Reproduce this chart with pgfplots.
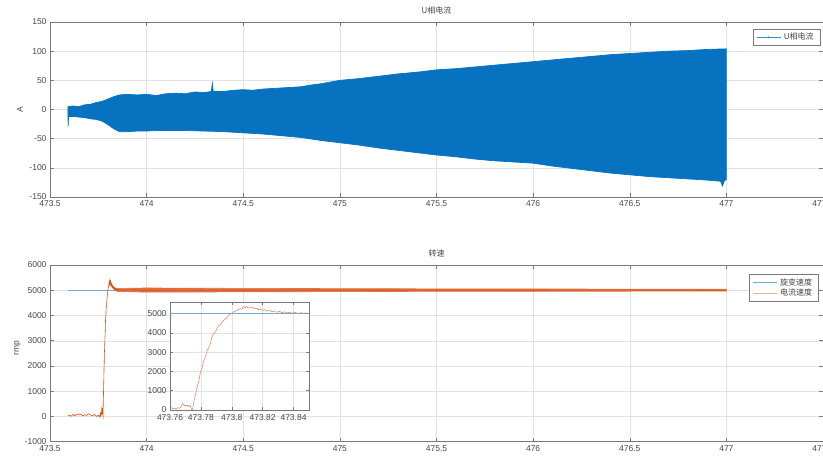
\documentclass[border=0pt]{standalone}
\usepackage{fontspec}
\setmainfont{Liberation Sans}
\newfontfamily\cjk{Noto Sans CJK SC}
\usepackage{pgfplots}
\pgfplotsset{compat=1.18}
\definecolor{mblue}{RGB}{6,114,192}
\definecolor{morange}{RGB}{217,83,25}
\definecolor{mteal}{RGB}{105,175,200}
\definecolor{axgray}{RGB}{120,120,120}
\definecolor{txtgray}{RGB}{70,70,70}
\definecolor{gridgray}{RGB}{226,226,226}
\pgfplotsset{
  mstyle/.style={
    scale only axis,
    axis line style={axgray, line width=0.5pt},
    tick style={axgray, line width=0.5pt},
    tick align=inside, major tick length=4pt,
    grid=major, major grid style={gridgray, line width=0.4pt},
    ticklabel style={font=\fontsize{8.5}{9}\selectfont, text=txtgray},
    /pgf/number format/assume math mode=true,
    /pgf/number format/1000 sep={},
    scaled ticks=false,
    title style={font=\cjk\fontsize{8}{9}\selectfont, text=txtgray, anchor=south, inner sep=1.5pt},
    ylabel style={font=\fontsize{8.5}{9}\selectfont, text=txtgray},
    legend style={draw=axgray, fill=white, font=\cjk\fontsize{8}{9}\selectfont, text=txtgray,
      inner xsep=3pt, inner ysep=2pt, row sep=-1.5pt,
      nodes={inner xsep=3pt}},
    legend cell align=left,
    legend image code/.code={\draw[mark repeat=2,mark phase=2,#1] plot coordinates {(0pt,0pt) (12pt,0pt) (24pt,0pt)};},
  }
}
% envelope of the U-phase current: upper edge left to right, then lower edge right to left
\pgfplotstableread{
x y
473.593 5
473.620 6
473.650 5
473.680 8
473.710 9
473.740 12
473.770 14
473.800 18
473.830 22
473.860 25
473.900 26
473.950 25
474.000 26
474.050 24
474.100 27
474.150 28
474.200 27
474.250 30
474.300 29
474.335 31
474.340 45
474.345 31
474.400 31
474.450 33
474.500 34
474.550 33
474.600 35
474.650 36
474.700 37
474.750 38
474.800 39
474.850 42
474.900 44
474.950 47
475.000 50
475.100 53
475.200 57
475.300 61
475.400 64
475.500 68
475.600 70
475.700 73
475.800 76
475.900 79
476.000 82
476.100 85
476.200 88
476.300 91
476.400 94
476.500 96
476.600 98
476.700 100
476.800 101
476.900 103
477.000 104
477.000 -120
476.990 -122
476.980 -131
476.970 -123
476.900 -121
476.800 -119
476.700 -117
476.600 -115
476.500 -112
476.400 -109
476.300 -105
476.200 -101
476.100 -97
476.000 -92
475.900 -90
475.800 -88
475.700 -85
475.600 -81
475.500 -78
475.400 -74
475.300 -70
475.200 -66
475.100 -61
475.000 -57
474.900 -53
474.800 -48
474.700 -45
474.600 -42
474.500 -40
474.400 -38
474.300 -37
474.200 -36
474.100 -36
474.050 -36
474.000 -37
473.950 -37
473.900 -38
473.860 -38
473.830 -33
473.800 -26
473.770 -20
473.740 -17
473.710 -16
473.680 -14
473.650 -13
473.620 -12
473.596 -12
473.594 -28
473.593 -12
}\envcur
\pgfplotstableread{
x y
473.593 20
473.600 60
473.610 10
473.620 80
473.630 30
473.640 100
473.650 60
473.660 90
473.670 20
473.680 70
473.690 40
473.700 110
473.710 60
473.720 30
473.730 80
473.740 0
473.750 50
473.755 -20
473.760 80
473.7610 120
473.7620 60
473.7630 100
473.7640 50
473.7650 120
473.7660 90
473.7670 140
473.7680 320
473.7690 280
473.7700 200
473.7710 260
473.7720 180
473.7730 240
473.7740 20
473.7745 0
473.7755 470
473.7765 800
473.7775 1170
473.7785 1450
473.7797 1950
473.7805 2100
473.7818 2560
473.7828 2700
473.7840 3080
473.7850 3200
473.7861 3430
473.7870 3750
473.7882 3950
473.7895 4050
473.7914 4390
473.7925 4400
473.7947 4650
473.7955 4680
473.7968 4790
473.7989 4970
473.8000 5000
473.8011 5090
473.8030 5150
473.8054 5260
473.8065 5220
473.8075 5380
473.8085 5300
473.8095 5370
473.8105 5290
473.8118 5350
473.8130 5280
473.8140 5320
473.8150 5240
473.8160 5280
473.8172 5200
473.8185 5240
473.8203 5170
473.8215 5200
473.8230 5130
473.8246 5160
473.8260 5100
473.8275 5130
473.8290 5070
473.8310 5110
473.8325 5050
473.8340 5090
473.8355 5030
473.8374 5070
473.8390 5010
473.8410 5060
473.8430 5000
473.8450 5050
473.8470 4990
473.8481 5030
473.8500 4990
473.8600 5040
473.8800 4960
473.9000 5030
474.0000 5000
474.5000 5010
475.0000 4995
475.5000 5005
476.0000 5000
476.5000 5005
477.0000 5000
}\speed
% noise band of the current-derived speed: upper edge, then lower edge reversed
\pgfplotstableread{
x y
473.850 5070
474.000 5090
474.250 5080
474.500 5075
474.750 5070
475.000 5065
475.500 5055
476.000 5050
476.500 5045
477.000 5040
477.000 4965
476.500 4962
476.000 4960
475.500 4955
475.000 4945
474.750 4940
474.500 4935
474.250 4930
474.000 4925
473.850 4950
}\band
\begin{document}
\begin{tikzpicture}
% ---------- top: U-phase current ----------
\begin{axis}[mstyle,
  at={(50pt,261pt)}, anchor=south west, width=773pt, height=175pt,
  xmin=473.5, xmax=477.5, ymin=-150, ymax=150,
  xtick={473.5,474,474.5,475,475.5,476,476.5,477,477.5},
  xticklabels={473.5,474,474.5,475,475.5,476,476.5,477,477.5},
  ytick={-150,-100,-50,0,50,100,150},
  title={U相电流},
  ylabel={A},
  ylabel style={at={(axis description cs:-0.039,0.5)}, anchor=center},
  legend style={at={(axis description cs:0.996,0.96)}, anchor=north east},
]
\addplot[fill=mblue, draw=mblue, line width=0.7pt, forget plot] table[x=x,y=y] {\envcur} -- cycle;
\addlegendimage{mblue!80!white, line width=0.5pt, mark=*, mark size=0.7pt}
\addlegendentry{U相电流}
\end{axis}
% ---------- bottom: speed ----------
\begin{axis}[mstyle,
  at={(50pt,16.3pt)}, anchor=south west, width=773pt, height=176.7pt,
  xmin=473.5, xmax=477.5, ymin=-1000, ymax=6000,
  xtick={473.5,474,474.5,475,475.5,476,476.5,477,477.5},
  xticklabels={473.5,474,474.5,475,475.5,476,476.5,477,477.5},
  ytick={-1000,0,1000,2000,3000,4000,5000,6000},
  title={转速},
  ylabel={rmp},
  ylabel style={at={(axis description cs:-0.042,0.53)}, anchor=center},
  legend style={at={(axis description cs:0.994,0.949)}, anchor=north east},
]
\addplot[mteal, line width=0.6pt] coordinates {(473.593,5000) (477.0,5000)};
\addlegendentry{旋变速度}
\addplot[fill=morange!85!white, draw=morange!80!white, line width=0.6pt, forget plot] table[x=x,y=y] {\band} -- cycle;
\addplot[morange, line width=0.6pt, legend image post style={morange!45!white}] table[x=x,y=y] {\speed};
\addlegendentry{电流速度}
\end{axis}
% ---------- inset ----------
\begin{axis}[mstyle,
  at={(170pt,48pt)}, anchor=south west, width=139pt, height=108pt,
  axis background/.style={fill=white},
  xmin=473.76, xmax=473.85, ymin=0, ymax=5600,
  xtick={473.76,473.78,473.8,473.82,473.84},
  xticklabels={473.76,473.78,473.8,473.82,473.84},
  ytick={0,1000,2000,3000,4000,5000},
  major tick length=3pt,
  xticklabel style={yshift=-1pt},
]
\addplot[mteal, line width=0.5pt] coordinates {(473.76,5000) (473.85,5000)};
\addplot[morange!75!white, line width=0.5pt, restrict x to domain=473.755:473.86] table[x=x,y=y] {\speed};
\end{axis}
\pgfresetboundingbox
\path (0pt,0pt) rectangle (823pt,458pt);
\end{tikzpicture}
\end{document}
